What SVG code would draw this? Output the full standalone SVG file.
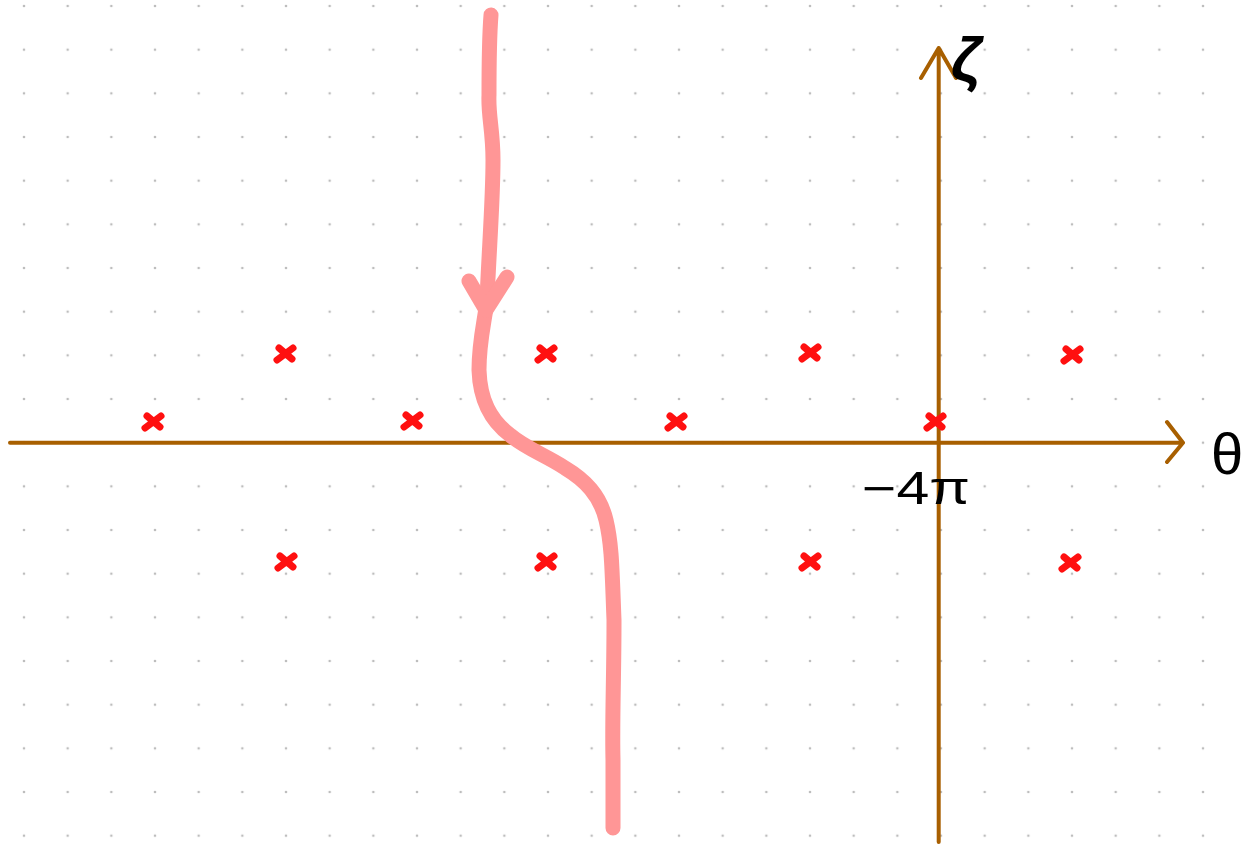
<svg xmlns="http://www.w3.org/2000/svg" width="1243" height="847" viewBox="0 0 1243 847">
<style>
.axis{stroke:#A85F00;stroke-width:4;fill:none;stroke-linecap:round;stroke-linejoin:round}
.pole{stroke:#FF1010;stroke-width:7;fill:none;stroke-linecap:round}
.contour{stroke:#FF9696;stroke-width:15;fill:none;stroke-linecap:round;stroke-linejoin:round}
.lbl{font-family:"Liberation Sans","DejaVu Sans",sans-serif;fill:#000}
</style>
<defs>
<pattern id="dots" patternUnits="userSpaceOnUse" x="2.17" y="-15.83" width="43.667" height="43.667">
<circle cx="21.83" cy="21.83" r="1.3" fill="#BDBDBD"/>
</pattern>
<path id="x" d="M-8,6 L8,-6 M-6,-6 L7,5"/>
</defs>
<rect width="1243" height="847" fill="#fff"/>
<rect width="1243" height="847" fill="url(#dots)"/>
<g id="axes">
<g id="theta-axis"><path class="axis" d="M10,442.7 L1182,442.7 M1167,422 L1183,442.7 L1167,462"/></g>
<g id="zeta-axis"><path class="axis" d="M938.7,842 L938.7,48 M921,78 L938.7,48 L956,78"/></g>
</g>
<g id="poles">
<use href="#x" class="pole" x="153" y="422"/>
<use href="#x" class="pole" x="285" y="354"/>
<use href="#x" class="pole" x="412" y="421"/>
<use href="#x" class="pole" x="546" y="354"/>
<use href="#x" class="pole" x="676" y="422"/>
<use href="#x" class="pole" x="810" y="353"/>
<use href="#x" class="pole" x="935" y="422"/>
<use href="#x" class="pole" x="1072" y="355"/>
<use href="#x" class="pole" x="286" y="562"/>
<use href="#x" class="pole" x="546" y="562"/>
<use href="#x" class="pole" x="810" y="562"/>
<use href="#x" class="pole" x="1070" y="563"/>
</g>
<g id="connectors">
<path class="contour" d="M491,15 C489,40 489,70 489,95 C488,115 493,130 493,160 C493,200 489,250 487,300 C485,320 479,340 479,370 C480,400 490,420 510,435 C525,448 545,455 565,468 C585,480 600,495 606,520 C612,545 612,570 614,620 C614,680 612,720 613,760 L613,828"/>
<path class="contour" d="M469,281 L486,310 L507,277"/>
</g>
<g id="labels">
<text class="lbl" x="951" y="80" font-size="62" font-weight="bold" font-style="italic">ζ</text>
<text class="lbl" x="1211" y="474" font-size="58">θ</text>
<text class="lbl" x="862" y="504" font-size="46" textLength="108" lengthAdjust="spacingAndGlyphs">−4π</text>
</g>
</svg>
